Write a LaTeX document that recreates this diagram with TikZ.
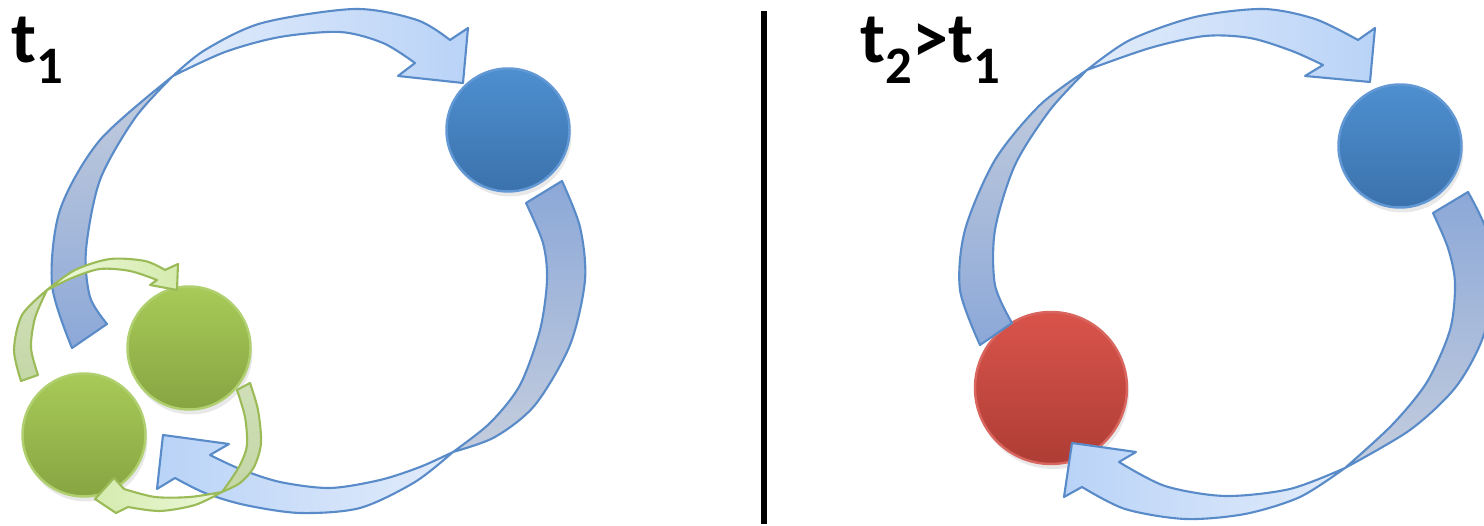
\documentclass[tikz,border=0pt]{standalone}
\usepackage{fontspec}
\setmainfont{Carlito}
\usetikzlibrary{shadows}
\definecolor{arrowline}{HTML}{5A8BC9}
\definecolor{backpale}{HTML}{C4CDDD}
\definecolor{backdeep}{HTML}{8CA8D8}
\definecolor{frontpale}{HTML}{E2ECFB}
\definecolor{frontdeep}{HTML}{B9D3F7}
\definecolor{greenline}{HTML}{9BBB59}
\definecolor{greenback}{HTML}{C4D7A6}
\definecolor{greenpale}{HTML}{EDF8DA}
\definecolor{greendeep}{HTML}{D4EBAE}

\begin{document}
\begin{tikzpicture}[
    x=0.1mm, y=-0.1mm,
    rim/.style={draw=arrowline, line width=0.6pt, line join=round},
    backpart/.style 2 args={rim, top color=#1, bottom color=#2},
    frontpart/.style 2 args={rim, left color=#1, right color=#2},
    grim/.style={draw=greenline, line width=0.6pt, line join=round},
    gback/.style={grim, top color=greenback!80, bottom color=greenback},
    gfront/.style 2 args={grim, left color=#1, right color=#2},
    ball/.style={circle, inner sep=0pt, line width=0.7pt,
                 drop shadow={opacity=0.18, shadow xshift=0.2mm, shadow yshift=-0.5mm}},
    blueball/.style={ball, minimum size=12.3mm, draw={rgb,255:red,98;green,152;blue,212},
                     top color={rgb,255:red,78;green,143;blue,208},
                     bottom color={rgb,255:red,59;green,114;blue,172}},
    greenball/.style={ball, minimum size=12.3mm, draw={rgb,255:red,176;green,207;blue,110},
                      top color={rgb,255:red,168;green,202;blue,88},
                      bottom color={rgb,255:red,135;green,165;blue,66}},
    redball/.style={ball, minimum size=15.2mm, draw={rgb,255:red,217;green,102;blue,94},
                    top color={rgb,255:red,217;green,84;blue,75},
                    bottom color={rgb,255:red,174;green,61;blue,53}},
    lbl/.style={font=\fontsize{20.5}{24}\selectfont\bfseries, inner sep=0pt, anchor=base west},
    divider/.style={line width=1.6pt, black}
]
\clip (0,0) rectangle (1484,526);

% =========================================================
% LEFT PANEL: t_1
% =========================================================
\node[blueball]  (lblue) at (508,130) {};
\node[greenball] (gone)  at (189,348) {};
\node[greenball] (gtwo)  at (84,435)  {};

% big cycle, upper arrow: back ribbon, then front with head
\filldraw[backpart={backpale}{backdeep}]
  plot[smooth] coordinates {(72,348) (52,285) (60,210) (100,140) (173,76)}
  -- plot[smooth] coordinates {(173,76) (135,118) (100,180) (86,250) (90,297) (107,324)}
  -- cycle;
\filldraw[frontpart={frontpale}{frontdeep}]
  plot[smooth] coordinates {(173,76) (205,50) (262,23) (355,9) (417,20) (450,40)}
  -- (468,28) -- (463,83) -- (398,76)
  -- plot[smooth] coordinates {(415,63) (383,43) (340,32) (280,37) (225,52) (173,76)}
  -- cycle;

% big cycle, lower arrow
\filldraw[backpart={backdeep}{backpale}]
  plot[smooth] coordinates {(562,181) (580,227) (585,280) (570,345) (535,405) (495,437) (453,452)}
  -- plot[smooth] coordinates {(453,452) (490,423) (520,385) (540,330) (547,280) (543,243) (526,203)}
  -- cycle;
\filldraw[frontpart={frontdeep}{frontpale}]
  plot[smooth] coordinates {(453,452) (415,482) (360,508) (300,513) (245,505) (205,493) (175,478)}
  -- (157,489) -- (163,435) -- (229,444)
  -- plot[smooth] coordinates {(210,455) (240,469) (280,482) (330,488) (380,480) (420,467) (453,452)}
  -- cycle;

% small cycle between the green balls
\filldraw[gback]
  plot[smooth] coordinates {(21,381) (14,350) (22,315) (47,290)}
  -- plot[smooth] coordinates {(47,290) (35,318) (31,348) (38,375)}
  -- cycle;
\filldraw[gfront={greenpale}{greendeep}]
  plot[smooth] coordinates {(47,290) (75,270) (110,259) (145,261) (165,270)}
  -- (178,264) -- (177,290) -- (150,285)
  -- plot[smooth] coordinates {(157,280) (130,271) (100,269) (72,278) (47,290)}
  -- cycle;
\filldraw[gback]
  plot[smooth] coordinates {(250,383) (258,410) (261,443) (254,467) (240,483) (222,492)}
  -- plot[smooth] coordinates {(222,492) (232,478) (241,463) (247,445) (245,417) (237,390)}
  -- cycle;
\filldraw[gfront={greendeep}{greenpale}]
  plot[smooth] coordinates {(222,492) (195,505) (160,511) (128,507)}
  -- (116,513) -- (95,499) -- (114,478)
  -- plot[smooth] coordinates {(124,489) (155,497) (190,497) (222,492)}
  -- cycle;

\node[lbl] (tone) at (11,63) {t\raisebox{-5.7pt}{\fontsize{15}{15}\selectfont 1}};

% divider
\coordinate (septop) at (764,11);
\coordinate (sepbot) at (764,524);
\draw[divider] (septop) -- (sepbot);

% =========================================================
% RIGHT PANEL: t_2 > t_1
% =========================================================
\node[blueball] (rblue) at (1400,146) {};
\node[redball]  (red)   at (1051,388) {};

\filldraw[backpart={backpale}{backdeep}]
  plot[smooth] coordinates {(980,345) (960,290) (965,230) (995,160) (1040,105) (1087,70)}
  -- plot[smooth] coordinates {(1087,70) (1050,110) (1015,165) (995,230) (995,285) (1012,323)}
  -- cycle;
\filldraw[frontpart={frontpale}{frontdeep}]
  plot[smooth] coordinates {(1087,70) (1130,40) (1195,17) (1263,9) (1315,19) (1358,40)}
  -- (1375,28) -- (1370,82) -- (1305,76)
  -- plot[smooth] coordinates {(1323,65) (1292,51) (1250,38) (1205,36) (1150,48) (1087,70)}
  -- cycle;

\filldraw[backpart={backdeep}{backpale}]
  plot[smooth] coordinates {(1468,192) (1487,232) (1494,285) (1482,340) (1455,388) (1410,430) (1345,468)}
  -- plot[smooth] coordinates {(1345,468) (1392,425) (1427,382) (1450,330) (1455,283) (1448,248) (1433,213)}
  -- cycle;
\filldraw[frontpart={frontdeep}{frontpale}]
  plot[smooth] coordinates {(1345,468) (1300,497) (1245,514) (1185,519) (1125,509) (1082,487)}
  -- (1064,497) -- (1072,443) -- (1136,452)
  -- plot[smooth] coordinates {(1119,462) (1165,486) (1225,496) (1290,489) (1345,468)}
  -- cycle;

\node[lbl] (ttwo) at (860,63) {t\raisebox{-5.7pt}{\fontsize{15}{15}\selectfont 2}>t\raisebox{-5.7pt}{\fontsize{15}{15}\selectfont 1}};

\end{tikzpicture}
\end{document}
